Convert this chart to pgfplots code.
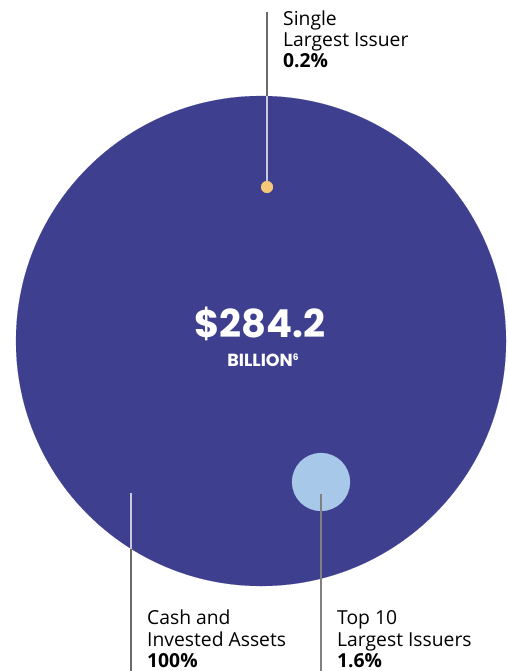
\documentclass[border=0pt]{standalone}
\usepackage{pgfplots}
\pgfplotsset{compat=1.18}
\usepackage{fontspec}
\setmainfont{Open Sans}
\newfontfamily\numfont{Poppins}
\definecolor{bigc}{HTML}{3E3F8F}
\definecolor{lightc}{HTML}{A8C8EA}
\definecolor{dotc}{HTML}{F8C87A}
\definecolor{linec}{HTML}{6A6A6A}
\definecolor{linein}{HTML}{C9C9DD}
\begin{document}
\begin{tikzpicture}
\begin{axis}[
  name=ax,
  scale only axis, width=507pt, height=671pt,
  xmin=0, xmax=507, ymin=0, ymax=671, y dir=reverse,
  hide axis, clip=false, clip marker paths=true,
]
% bubbles: (x, y) centre, radius in pt
\addplot[only marks, mark=*, mark size=245, mark options={solid, draw=bigc, fill=bigc, line width=0.1pt}] coordinates {(261,341)};
\addplot[only marks, mark=*, mark size=29, mark options={solid, draw=lightc, fill=lightc, line width=0.1pt}] coordinates {(321,482)};
% leader lines
\addplot[linec, line width=1.1pt, mark=none] coordinates {(267,12) (267,96)};
\addplot[linein, line width=1.1pt, mark=none] coordinates {(267,96) (267,187)};
\addplot[linein, line width=1.1pt, mark=none] coordinates {(131,493) (131,549)};
\addplot[linec, line width=1.1pt, mark=none] coordinates {(131,549) (131,671)};
\addplot[linec!85, line width=1.1pt, mark=none] coordinates {(321,494) (321,671)};
\addplot[only marks, mark=*, mark size=6, mark options={solid, draw=dotc, fill=dotc, line width=0.1pt}] coordinates {(267,187)};
% centre text
\node[anchor=base, text=white, font=\numfont\bfseries\fontsize{38.5}{40}\selectfont] at (axis cs:260,337) {\$284.2};
\node[anchor=base, text=white, font=\numfont\bfseries\fontsize{17.5}{19}\selectfont] at (axis cs:263,366) {BILLION\raisebox{0.6ex}{\fontsize{9}{10}\selectfont 6}};
% labels
\tikzset{lab/.style={anchor=base west, font=\fontsize{19.3}{21}\selectfont, inner sep=0pt}}
\node[lab] at (axis cs:283,26) {Single};
\node[lab] at (axis cs:283,47) {Largest Issuer};
\node[lab, font=\bfseries\fontsize{19.3}{21}\selectfont] at (axis cs:283,68) {0.2\%};
\node[lab] at (axis cs:147,624) {Cash and};
\node[lab] at (axis cs:147,646) {Invested Assets};
\node[lab, font=\bfseries\fontsize{19.3}{21}\selectfont] at (axis cs:147,667) {100\%};
\node[lab] at (axis cs:337,624) {Top 10};
\node[lab] at (axis cs:337,646) {Largest Issuers};
\node[lab, font=\bfseries\fontsize{19.3}{21}\selectfont] at (axis cs:337,667) {1.6\%};
\end{axis}
\pgfresetboundingbox
\useasboundingbox (ax.south west) rectangle (ax.north east);
\end{tikzpicture}
\end{document}
